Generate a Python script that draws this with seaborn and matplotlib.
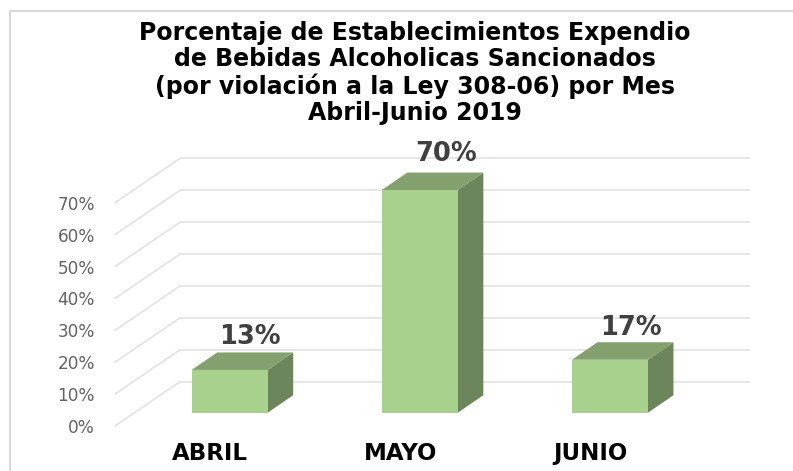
import matplotlib
matplotlib.use("Agg")
import matplotlib.pyplot as plt
import seaborn as sns
from matplotlib.lines import Line2D
from matplotlib.patches import Polygon
from matplotlib.transforms import Affine2D, IdentityTransform

# data
meses = ["ABRIL", "MAYO", "JUNIO"]
porcentajes = [13.4, 69.8, 16.6]
ticks = [0, 10, 20, 30, 40, 50, 60, 70]
titulo = ("Porcentaje de Establecimientos Expendio\n"
          "de Bebidas Alcoholicas Sancionados\n"
          "(por violación a la Ley 308-06) por Mes\n"
          "Abril-Junio 2019")

W, H = 793, 471
FRONT = "#A9D18E"
TOP = "#83A06E"
SIDE = "#6C855B"
GRID = "#E4E4E4"

# fake 3D offsets, in pixels
BAR_DX, BAR_DY = 25.5, 17.5
WALL_DX, WALL_DY = 45.4, 31.0
FLOOR_DX, FLOOR_DY = -19.6, -13.3

sns.set_theme(style="white")
plt.rcParams["font.family"] = ["DejaVu Sans"]

fig = plt.figure(figsize=(W / 100, H / 100), dpi=100, facecolor="white")
ax = fig.add_axes([134.6 / W, 58.3 / H, 570.4 / W, 255.2 / H])
ax.patch.set_alpha(0)

sns.barplot(x=meses, y=porcentajes, color=FRONT, saturation=1, width=0.4,
            linewidth=0, ax=ax, zorder=4)
ax.set_xlim(-0.5, 2.5)
ax.set_ylim(0, 80)
sns.despine(ax=ax, left=True, bottom=True)

# back wall gridlines and the diagonals down to the floor front
wall = ax.transData + Affine2D().translate(WALL_DX, WALL_DY)
ax.hlines(ticks, -0.5, 2.5, colors=GRID, linewidth=1.3, transform=wall,
          clip_on=False, zorder=1)
pixel = IdentityTransform()
for t in ticks:
    x0, y0 = ax.transData.transform((-0.5, t))
    ax.add_line(Line2D([x0 + FLOOR_DX, x0 + WALL_DX], [y0 + FLOOR_DY, y0 + WALL_DY],
                       color=GRID, linewidth=1.3, transform=pixel,
                       clip_on=False, zorder=1))

# top and side faces of each bar, from the bars seaborn drew
label_dx = [20.3, 26, 20.7]
label_dy = [33.3, 36, 32]
for bar, valor, dx, dy in zip(ax.patches, porcentajes, label_dx, label_dy):
    x = bar.get_x()
    w = bar.get_width()
    x0, y0 = ax.transData.transform((x, 0))
    x1, y1 = ax.transData.transform((x + w, valor))
    ax.add_patch(Polygon([(x1, y0), (x1 + BAR_DX, y0 + BAR_DY), (x1 + BAR_DX, y1 + BAR_DY), (x1, y1)],
                         closed=True, facecolor=SIDE, edgecolor="none",
                         transform=pixel, clip_on=False, zorder=3))
    ax.add_patch(Polygon([(x0, y1), (x1, y1), (x1 + BAR_DX, y1 + BAR_DY), (x0 + BAR_DX, y1 + BAR_DY)],
                         closed=True, facecolor=TOP, edgecolor="none",
                         transform=pixel, clip_on=False, zorder=3))
    ax.annotate(f"{valor:.0f}%", (x + w / 2, valor), xytext=(dx, dy),
                textcoords="offset pixels", ha="center", va="center",
                fontsize=18.5, fontweight="bold", color="#404040", zorder=5,
                annotation_clip=False)

ax.set_yticks(ticks)
ax.set_yticklabels([f"{t}%" for t in ticks])
ax.tick_params(axis="y", length=0, pad=28.5, labelsize=12.2, labelcolor="#636363")
ax.tick_params(axis="x", length=0, pad=21, labelsize=16.5, labelcolor="black")
ax.set_xlabel("")
ax.set_ylabel("")
for lab in ax.get_yticklabels():
    lab.set_transform(lab.get_transform() + Affine2D().translate(0, FLOOR_DY))
for lab in ax.get_xticklabels():
    lab.set_transform(lab.get_transform() + Affine2D().translate(FLOOR_DX, 0))
    lab.set_fontweight("bold")

fig.text(414.7 / W, 1 - 73 / H, titulo, ha="center", va="center", fontsize=17,
         fontweight="bold", color="black", linespacing=1.115)

# outer frame, only top and left show in the crop
fig.add_artist(Line2D([10 / W, 1], [1 - 11 / H, 1 - 11 / H], color="#D9D9D9", linewidth=1.5))
fig.add_artist(Line2D([10 / W, 10 / W], [0, 1 - 11 / H], color="#D9D9D9", linewidth=1.5))

fig.savefig("out.png", dpi=100, facecolor="white")
